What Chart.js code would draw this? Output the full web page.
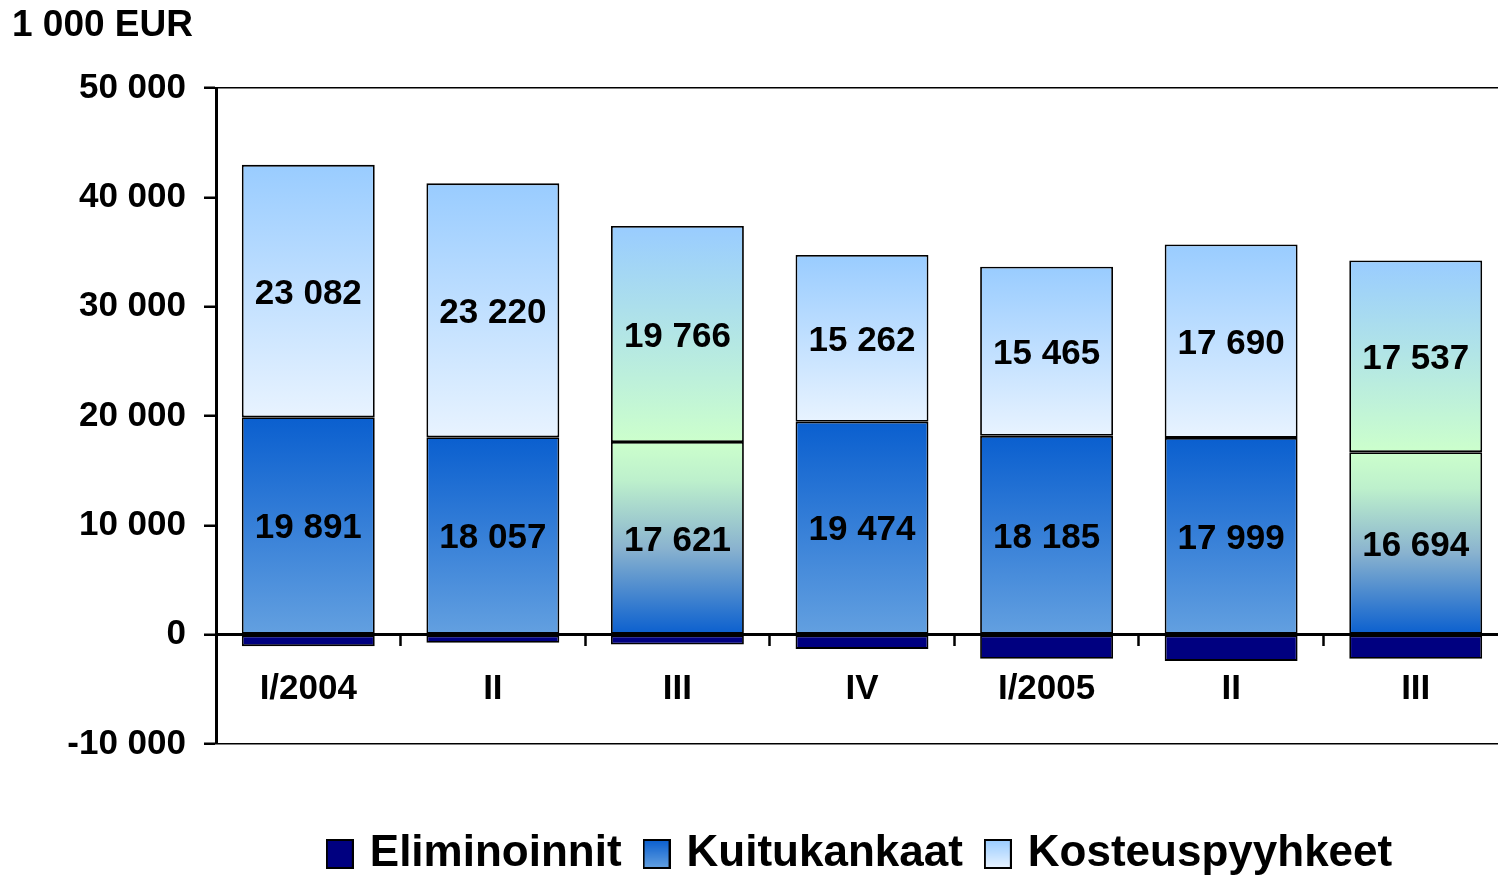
<!DOCTYPE html>
<html><head><meta charset="utf-8">
<script src="https://cdn.jsdelivr.net/npm/chart.js@4/dist/chart.umd.min.js"></script>
<style>html,body{margin:0;padding:0;background:#fff;overflow:hidden;}#wrap{width:1498px;height:875px;position:relative;overflow:hidden;}</style>
</head><body><div id="wrap"><canvas id="c" width="1508" height="875"></canvas></div>
<script>
// ---- data ----
const categories = ['I/2004', 'II', 'III', 'IV', 'I/2005', 'II', 'III'];
const eliminoinnit = [-1050, -750, -900, -1300, -2200, -2400, -2200];
const kuitukankaat = [19891, 18057, 17621, 19474, 18185, 17999, 16694];
const kosteuspyyhkeet = [23082, 23220, 19766, 15262, 15465, 17690, 17537];
const yTickValues = [-10000, 0, 10000, 20000, 30000, 40000, 50000];
const seriesNames = ['Eliminoinnit', 'Kuitukankaat', 'Kosteuspyyhkeet'];
const unitTitle = '1 000 EUR';

// ---- style ----
const FONT = "'Liberation Sans', Arial, sans-serif";
const greenStyledIndexes = [2, 6];
const NAVY = '#000080';
const KUITU_STOPS = [[0, '#0a5fcf'], [1, '#63a0e0']];
const KOSTEUS_STOPS = [[0, '#99ccff'], [1, '#e8f3ff']];
const KUITU_GREEN_STOPS = [[0, '#ccffcc'], [0.2, '#bdf0cc'], [0.55, '#8ab3cf'], [1, '#0a5fcf']];
const KOSTEUS_GREEN_STOPS = [[0, '#99ccff'], [1, '#ccffcc']];

const fmt = v => String(v).replace(/\B(?=(\d{3})+(?!\d))/g, ' ');

function segGradient(ctx, topVal, botVal, stops) {
  const chart = ctx.chart;
  const y = chart.scales && chart.scales.y;
  if (!chart.chartArea || !y) return stops[0][1];
  const g = chart.ctx.createLinearGradient(0, y.getPixelForValue(topVal), 0, y.getPixelForValue(botVal));
  stops.forEach(([o, c]) => g.addColorStop(o, c));
  return g;
}

function swatch(stops) {
  const c = document.createElement('canvas');
  c.width = 28; c.height = 30;
  const x = c.getContext('2d');
  const g = x.createLinearGradient(0, 1, 0, 29);
  stops.forEach(([o, col]) => g.addColorStop(o, col));
  x.fillStyle = g; x.fillRect(1, 1, 26, 28);
  x.strokeStyle = '#000'; x.lineWidth = 2; x.strokeRect(1, 1, 26, 28);
  return c;
}

const valueLabels = {
  id: 'valueLabels',
  afterDatasetsDraw(chart) {
    const ctx = chart.ctx;
    ctx.save();
    ctx.font = 'bold 35px ' + FONT;
    ctx.fillStyle = '#000';
    ctx.textAlign = 'center';
    ctx.textBaseline = 'middle';
    [1, 2].forEach(di => {
      const meta = chart.getDatasetMeta(di);
      meta.data.forEach((el, i) => {
        const p = el.getCenterPoint();
        ctx.fillText(fmt(chart.data.datasets[di].data[i]), p.x, p.y + 3);
      });
    });
    ctx.restore();
  }
};

const legendSwatches = [
  swatch([[0, NAVY], [1, NAVY]]),
  swatch(KUITU_STOPS),
  swatch(KOSTEUS_STOPS)
];

new Chart(document.getElementById('c'), {
  type: 'bar',
  data: {
    labels: categories,
    datasets: [
      {
        label: seriesNames[0], data: eliminoinnit,
        backgroundColor: NAVY, borderColor: '#000', borderWidth: 1.8, borderSkipped: false
      },
      {
        label: seriesNames[1], data: kuitukankaat,
        backgroundColor: c => segGradient(c, kuitukankaat[c.dataIndex], 0,
          greenStyledIndexes.includes(c.dataIndex) ? KUITU_GREEN_STOPS : KUITU_STOPS),
        borderColor: '#000', borderWidth: 1.8, borderSkipped: false
      },
      {
        label: seriesNames[2], data: kosteuspyyhkeet,
        backgroundColor: c => segGradient(c, kuitukankaat[c.dataIndex] + kosteuspyyhkeet[c.dataIndex], kuitukankaat[c.dataIndex],
          greenStyledIndexes.includes(c.dataIndex) ? KOSTEUS_GREEN_STOPS : KOSTEUS_STOPS),
        borderColor: '#000', borderWidth: 1.8, borderSkipped: false
      }
    ]
  },
  options: {
    responsive: false,
    animation: false,
    devicePixelRatio: 1,
    layout: { padding: { left: 12, right: 0, top: 0, bottom: -11 } },
    datasets: { bar: { categoryPercentage: 1, barPercentage: 0.72 } },
    scales: {
      x: {
        stacked: true,
        position: { y: 0 },
        z: 1,
        grid: { display: true, drawOnChartArea: false, drawTicks: true, tickLength: 10, offset: true, tickColor: '#000', tickWidth: 2.5 },
        border: { display: true, color: '#000', width: 3 },
        ticks: { color: '#000', font: { family: FONT, size: 35, weight: 'bold' }, padding: 24, maxRotation: 0, autoSkip: false }
      },
      spacer: {
        type: 'category', position: 'bottom', display: true, labels: [''],
        grid: { display: false, drawTicks: false }, border: { display: false },
        ticks: { display: false },
        afterFit: s => { s.height = 61; }
      },
      y: {
        stacked: true,
        min: -10000, max: 50000,
        afterBuildTicks: s => { s.ticks = yTickValues.map(v => ({ value: v })); },
        afterFit: s => { s.width = 204; },
        grid: {
          drawOnChartArea: true,
          color: c => (c.tick && (c.tick.value === 50000 || c.tick.value === -10000)) ? '#000' : 'rgba(0,0,0,0)',
          lineWidth: 1.5,
          tickColor: '#000', tickWidth: 2.5, tickLength: 12
        },
        border: { display: true, color: '#000', width: 3 },
        ticks: { color: '#000', padding: 18, font: { family: FONT, size: 35, weight: 'bold' }, callback: v => fmt(v) }
      }
    },
    plugins: {
      title: {
        display: true, text: unitTitle, align: 'start', color: '#000',
        font: { family: FONT, size: 37, weight: 'bold' },
        padding: { top: 4, bottom: 39.6 }
      },
      legend: {
        display: true, position: 'bottom', fullSize: false,
        labels: {
          color: '#000', font: { family: FONT, size: 44, weight: 'bold' },
          usePointStyle: true, boxWidth: 16, boxHeight: 30, padding: 27,
          generateLabels: chart => chart.data.datasets.map((d, i) => ({
            text: d.label, pointStyle: legendSwatches[i], fillStyle: NAVY,
            strokeStyle: '#000', lineWidth: 0, hidden: false, datasetIndex: i, fontColor: '#000'
          }))
        }
      },
      tooltip: { enabled: false }
    }
  },
  plugins: [valueLabels]
});
</script></body></html>
